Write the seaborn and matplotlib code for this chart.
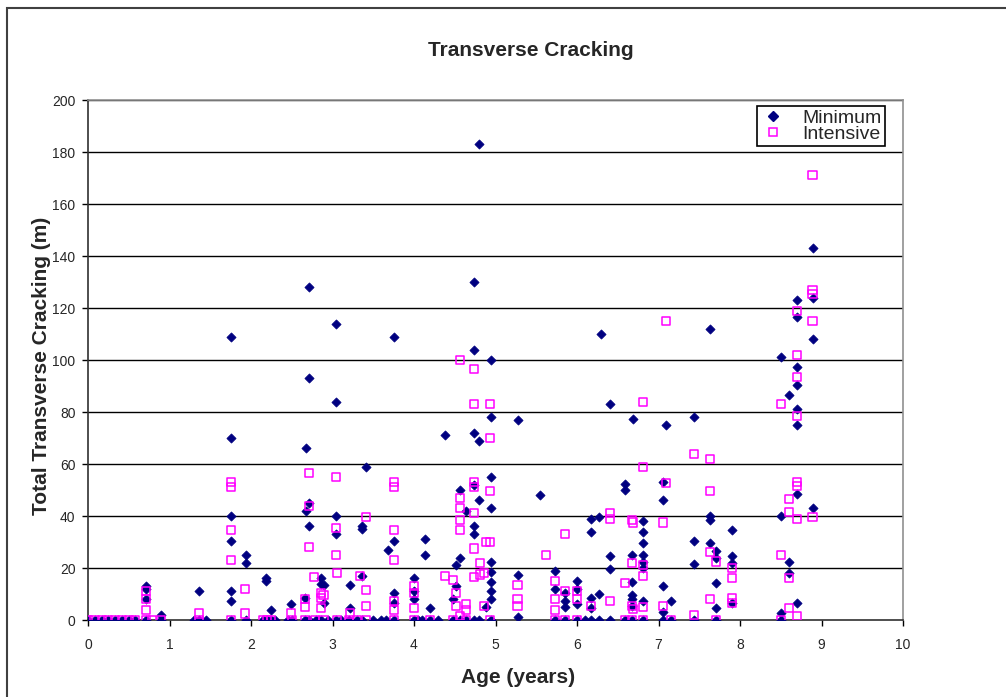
import matplotlib
matplotlib.use("Agg")
import matplotlib.pyplot as plt
import seaborn as sns
import pandas as pd
from matplotlib.patches import Rectangle
from matplotlib.lines import Line2D

sns.set_theme(style="white")
plt.rcParams['font.family'] = ['Liberation Sans', 'DejaVu Sans']

# ---------------- data ----------------
title = "Transverse Cracking"
x_label = "Age (years)"
y_label = "Total Transverse Cracking (m)"
series_names = ["Minimum", "Intensive"]
x_ticks = [0, 1, 2, 3, 4, 5, 6, 7, 8, 9, 10]
y_ticks = [0, 20, 40, 60, 80, 100, 120, 140, 160, 180, 200]

min_zero_ages = [0.0, 0.08, 0.17, 0.25, 0.33, 0.42, 0.5, 0.58, 0.71, 0.9, 1.3, 1.36, 1.45,
                 1.76, 1.94, 2.15, 2.2, 2.25, 2.3, 2.45, 2.5, 2.66, 2.71, 2.8, 2.86, 2.95,
                 3.04, 3.1, 3.2, 3.3, 3.36, 3.5, 3.6, 3.66, 3.75, 4.0, 4.05, 4.1, 4.2, 4.3,
                 4.48, 4.56, 4.64, 4.74, 4.8, 4.94, 5.73, 5.85, 6.0, 6.1, 6.17, 6.27, 6.41,
                 6.59, 6.67, 6.81, 7.05, 7.15, 7.44, 7.71, 8.5]
min_ages = [0.71, 0.71, 0.71, 0.9, 1.36, 1.76, 1.76, 1.76, 1.76, 1.76, 1.76, 1.94, 1.94,
            2.19, 2.19, 2.25, 2.49, 2.66, 2.71, 2.71, 2.71, 2.71, 2.67, 2.67, 2.86, 2.86,
            2.89, 2.89, 3.04, 3.04, 3.04, 3.04, 3.21, 3.21, 3.36, 3.36, 3.36, 3.41, 3.68,
            3.75, 3.75, 3.75, 3.75, 4.0, 4.0, 4.0, 4.13, 4.13, 4.2, 4.38, 4.48, 4.52, 4.52,
            4.56, 4.56, 4.64, 4.74, 4.74, 4.74, 4.74, 4.74, 4.74, 4.8, 4.8, 4.8, 4.94, 4.94,
            4.94, 4.94, 4.94, 4.94, 4.94, 4.94, 4.94, 4.88, 5.27, 5.27, 5.27, 5.55, 5.73,
            5.73, 5.85, 5.85, 5.85, 6.0, 6.0, 6.0, 6.17, 6.17, 6.17, 6.17, 6.27, 6.27, 6.29,
            6.41, 6.41, 6.41, 6.59, 6.59, 6.67, 6.67, 6.67, 6.67, 6.67, 6.69, 6.81, 6.81,
            6.81, 6.81, 6.81, 6.81, 6.81, 7.05, 7.05, 7.05, 7.05, 7.09, 7.15, 7.44, 7.44,
            7.44, 7.63, 7.63, 7.63, 7.63, 7.71, 7.71, 7.71, 7.71, 7.9, 7.9, 7.9, 7.9, 8.5,
            8.5, 8.5, 8.6, 8.6, 8.6, 8.7, 8.7, 8.7, 8.7, 8.7, 8.7, 8.7, 8.7, 8.89, 8.89,
            8.89, 8.89]
min_cracks = [13, 12, 8, 2, 11, 109, 70, 40, 30.5, 11, 7.5, 25, 22,
              16, 15, 4, 6, 8.5, 128, 93, 45, 36, 66, 42, 16, 14,
              13.5, 6.5, 114, 84, 40, 33, 13.5, 4.5, 36, 35, 17, 59, 27,
              109, 30.5, 10.5, 6.5, 16, 11, 8, 31, 25, 4.5, 71, 8, 21, 13,
              50, 24, 42, 130, 104, 72, 52, 36, 33, 183, 69, 46, 100, 78,
              55, 43, 22.5, 18.5, 14.5, 11, 8, 5, 77, 17.5, 1.3, 48, 19,
              12, 10.5, 7.5, 5, 15, 12, 6, 39, 34, 8.5, 4.5, 39.5, 10, 110,
              83, 24.5, 19.5, 52.5, 50, 25, 14.5, 9.5, 8, 5.5, 77.5, 38, 34,
              29.5, 25, 22.5, 20, 7.3, 53, 46, 13, 3, 75, 7.3, 78, 30.5,
              21.5, 112, 40, 38.5, 29.5, 26.5, 24, 14.3, 4.6, 34.5, 24.5, 22, 6.6, 101,
              40, 2.6, 86.5, 22.5, 18, 123, 116.5, 97.5, 90.5, 81, 75, 48.5, 6.6, 143, 124,
              108, 43]

int_zero_ages = [0.0, 0.08, 0.17, 0.25, 0.33, 0.42, 0.5, 0.58, 0.71, 0.78, 0.9, 1.36, 1.76,
                 2.15, 2.2, 2.25, 2.5, 2.66, 2.78, 2.89, 3.05, 3.2, 3.3, 3.41, 3.75, 4.0,
                 4.2, 4.48, 4.64, 4.93, 5.73, 5.85, 6.0, 6.59, 6.67, 6.81, 7.15, 7.71, 8.5]
int_ages = [0.71, 0.71, 0.71, 1.36, 1.76, 1.76, 1.76, 1.76, 1.93, 1.93, 2.49, 2.66, 2.66,
            2.71, 2.71, 2.71, 2.77, 2.86, 2.86, 2.86, 2.89, 3.04, 3.04, 3.04, 3.06, 3.21,
            3.34, 3.41, 3.41, 3.41, 3.75, 3.75, 3.75, 3.75, 3.75, 3.75, 4.0, 4.0, 4.0,
            4.38, 4.48, 4.52, 4.52, 4.56, 4.56, 4.56, 4.56, 4.56, 4.56, 4.64, 4.64, 4.74,
            4.74, 4.74, 4.74, 4.74, 4.74, 4.74, 4.81, 4.81, 4.86, 4.86, 4.93, 4.93, 4.93,
            4.93, 4.88, 5.27, 5.27, 5.27, 5.62, 5.73, 5.73, 5.73, 5.85, 5.85, 6.0, 6.0,
            6.17, 6.41, 6.41, 6.41, 6.59, 6.67, 6.67, 6.67, 6.69, 6.69, 6.81, 6.81, 6.81,
            6.81, 6.81, 7.05, 7.05, 7.09, 7.09, 7.44, 7.44, 7.63, 7.63, 7.63, 7.63, 7.71,
            7.9, 7.9, 7.9, 7.9, 8.5, 8.5, 8.6, 8.6, 8.6, 8.6, 8.7, 8.7, 8.7, 8.7, 8.7, 8.7,
            8.7, 8.7, 8.89, 8.89, 8.89, 8.89, 8.89]
int_cracks = [11, 8, 4, 2.5, 53, 51, 34.5, 23, 12, 2.5, 2.5, 8, 5,
              56.5, 44, 28, 16.5, 10.5, 8.5, 4.5, 9.5, 55, 35.5, 25, 18, 2.5,
              17, 39.5, 11.5, 5.5, 53, 51, 34.5, 23, 7.3, 4, 13, 10.5, 4.5,
              17, 15.5, 10.5, 5.3, 100, 47, 43, 38.5, 34.5, 1.5, 6, 4, 96.5,
              83, 53, 51, 41, 27.5, 16.5, 22, 17.5, 18, 5.3, 83, 70, 49.5,
              30, 30, 13.5, 8, 5.3, 25, 15, 8, 4, 33, 11.3, 11.3, 8,
              5.3, 41, 39, 7.3, 14.3, 38.5, 22, 5.3, 37.5, 4.2, 84, 59, 21,
              17, 5, 37.5, 5.3, 115, 52.7, 64, 2, 62, 49.5, 26, 8, 22.5,
              20, 16, 8.6, 6.6, 83, 25, 46.5, 41.5, 16, 4.6, 119, 102, 93.5, 78.5, 53, 51.5,
              39, 1.6, 171, 127, 125.5, 115, 39.5]

# ---------------- frames ----------------
df_min = pd.DataFrame({"age": min_zero_ages + min_ages,
                       "crack": [0] * len(min_zero_ages) + min_cracks})
df_int = pd.DataFrame({"age": int_zero_ages + int_ages,
                       "crack": [0] * len(int_zero_ages) + int_cracks})

navy = "#000080"
magenta = "#FF00FF"

fig = plt.figure(figsize=(10.06, 6.97), dpi=100)
fig.patches.append(Rectangle((7 / 1006, -0.1), 1.2, 1 - 8 / 697 + 0.1,
                             transform=fig.transFigure, fill=False,
                             edgecolor="#404040", linewidth=1.5, zorder=0))
ax = fig.add_axes([88 / 1006, 1 - 620 / 697, (903 - 88) / 1006, (620 - 100) / 697])

ax.set_xlim(0, 10)
ax.set_ylim(0, 200)
for yv in y_ticks[1:]:
    ax.axhline(yv, color="black", linewidth=1.0, zorder=0.5)

sns.scatterplot(data=df_min, x="age", y="crack", ax=ax, marker="D", s=22,
                color=navy, edgecolor=navy, linewidth=0.5, zorder=3, legend=False)
sns.scatterplot(data=df_int, x="age", y="crack", ax=ax, marker="s", s=34,
                color=magenta, linewidth=1.1, zorder=4, legend=False)
coll = ax.collections[-1]
coll.set_facecolor("none")
coll.set_edgecolor(magenta)

ax.set_xticks(x_ticks)
ax.set_yticks(y_ticks)
ax.set_xticklabels([str(t) for t in x_ticks], fontsize=10)
ax.set_yticklabels([str(t) for t in y_ticks], fontsize=10)
ax.tick_params(axis="both", direction="out", length=4, width=1, color="black",
               bottom=True, left=True)
ax.tick_params(axis="x", pad=9)
ax.tick_params(axis="y", pad=5)

for side in ["top", "right"]:
    ax.spines[side].set_color("#909090")
    ax.spines[side].set_linewidth(1.2)
for side in ["left", "bottom"]:
    ax.spines[side].set_color("#303030")
    ax.spines[side].set_linewidth(1.2)
    ax.spines[side].set_visible(True)
ax.spines["top"].set_visible(True)
ax.spines["right"].set_visible(True)

ax.set_xlabel(x_label, fontsize=15, fontweight="bold")
ax.set_ylabel(y_label, fontsize=15, fontweight="bold")
ax.xaxis.set_label_coords((518 - 88) / 815, -(668 - 620) / 520)
ax.yaxis.set_label_coords(-(88 - 51) / 815, (620 - 366) / 520)
fig.text(531 / 1006, 1 - 50 / 697, title, fontsize=15, fontweight="bold",
         ha="center", va="center")

handles = [Line2D([], [], marker="D", linestyle="none", markersize=5,
                  markerfacecolor=navy, markeredgecolor=navy),
           Line2D([], [], marker="s", linestyle="none", markersize=6,
                  markerfacecolor="none", markeredgecolor=magenta, markeredgewidth=1.1)]
leg = ax.legend(handles, series_names, loc="upper right", bbox_to_anchor=(0.9825, 0.995),
                fontsize=14, frameon=True, fancybox=False, edgecolor="black",
                framealpha=1, borderpad=0.15, labelspacing=-0.1, handletextpad=0.9,
                handlelength=1.3, borderaxespad=0.2)
leg.get_frame().set_linewidth(1.2)

fig.savefig("out.png", dpi=100)
